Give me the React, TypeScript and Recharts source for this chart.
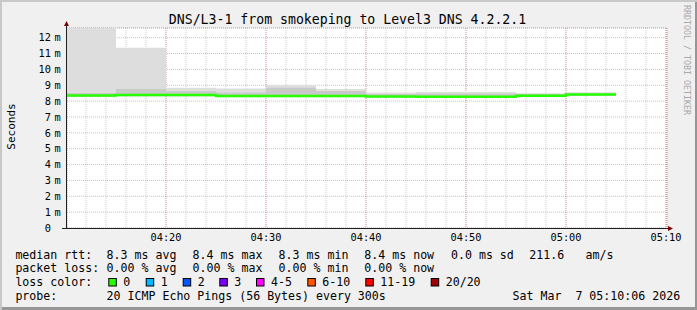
import { Area, CartesianGrid, ComposedChart, Line, XAxis, YAxis } from 'recharts'

const mono = "'DejaVu Sans Mono', monospace"

// 5 minute rrd steps, minutes after midnight (first one clipped at 04:10:06)
const blockStarts = [250.1, 255, 260, 265, 270, 275, 280, 285, 290, 295, 300]
const lastBlockEnd = 305
// smoke, in ms
const minMs = [8.27, 8.3, 8.3, 8.26, 8.26, 8.26, 8.23, 8.22, 8.22, 8.28, 8.34]
const medianMs = [8.36, 8.38, 8.38, 8.32, 8.33, 8.33, 8.29, 8.28, 8.28, 8.34, 8.41]
const innerMs = [8.54, 8.77, 8.65, 8.56, 8.88, 8.65, 8.48, 8.5, 8.5, 8.45, 8.5]
const maxMs = [12.61, 11.37, 8.85, 8.79, 9.0, 8.77, 8.54, 8.58, 8.57, 8.5, 8.56]

const xDomain = [250.1, 310.1]
const xMajorTicks = [260, 270, 280, 290, 300, 310]
const xTickLabels = ['04:20', '04:30', '04:40', '04:50', '05:00', '05:10']
const xMinorTicks = [252, 254, 256, 258, 260, 262, 264, 266, 268, 270, 272, 274, 276, 278, 280, 282, 284, 286, 288, 290, 292, 294, 296, 298, 300, 302, 304, 306, 308, 310]
const yMax = 12.61
const yMajorTicks = [0, 1, 2, 3, 4, 5, 6, 7, 8, 9, 10, 11, 12]
const yMinorTicks = [0, 0.5, 1, 1.5, 2, 2.5, 3, 3.5, 4, 4.5, 5, 5.5, 6, 6.5, 7, 7.5, 8, 8.5, 9, 9.5, 10, 10.5, 11, 11.5, 12, 12.5]

const title = 'DNS/L3-1 from smokeping to Level3 DNS 4.2.2.1'
const rttStats = ['8.3 ms avg', '8.4 ms max', '8.3 ms min', '8.4 ms now', '0.0 ms sd', '211.6', 'am/s']
const lossStats = ['0.00 % avg', '0.00 % max', '0.00 % min', '0.00 % now']
const lossLabels = ['0', '1', '2', '3', '4-5', '6-10', '11-19', '20/20']
const lossColors = ['#26ff00', '#00b8ff', '#0059ff', '#7e00ff', '#ff00ff', '#ff5500', '#ff0000', '#a10000']
const probeText = '20 ICMP Echo Pings (56 Bytes) every 300s'
const stamp = 'Sat Mar  7 05:10:06 2026'

// legend layout
const rttX = [106.6, 192.6, 278.6, 364.3, 451, 529.3, 585.6]
const boxX = [108.3, 145.7, 182.7, 219.3, 256, 307.3, 365.3, 430.7]
const rowY = [258.5, 272.3, 286, 300]

const rows = [...blockStarts, lastBlockEnd].map((t, j) => {
  const i = Math.min(j, blockStarts.length - 1)
  return {
    t,
    base: minMs[i],
    low: medianMs[i] - minMs[i],
    mid: innerMs[i] - medianMs[i],
    high: maxMs[i] - innerMs[i],
    median: medianMs[i],
  }
})

function YTick(props: any) {
  const { x, y, payload } = props
  const v = payload.value
  return (
    <g>
      <text x={x - 16} y={y} dy={3.7} textAnchor="end" fontFamily={mono} fontSize={10.3} fill="#000">{v}</text>
      {v > 0 && <text x={x - 12.5} y={y} dy={3.7} fontFamily={mono} fontSize={10.3} fill="#000">m</text>}
    </g>
  )
}

function XTick(props: any) {
  const { x, y, payload } = props
  const label = xTickLabels[xMajorTicks.indexOf(payload.value)]
  return (
    <text x={x} y={y} dy={13} textAnchor="middle" fontFamily={mono} fontSize={10.3} fill="#000">{label}</text>
  )
}

export default function App() {
  const txt = { fontFamily: mono, fontSize: 11.6, fill: '#000', whiteSpace: 'pre' as const }
  return (
    <div style={{ position: 'absolute', top: 0, left: 0, width: 697, height: 310, background: '#f0f0f0', boxShadow: 'inset 2px 2px 0 #c8c8c8, inset -2px -3px 0 #969696' }}>
      <ComposedChart width={697} height={310} data={rows} margin={{ top: 28, right: 30, bottom: 62, left: 7 }}>
        <XAxis xAxisId="minor" dataKey="t" type="number" domain={xDomain} ticks={xMinorTicks} interval={0} hide />
        <YAxis yAxisId="minor" type="number" domain={[0, yMax]} ticks={yMinorTicks} interval={0} hide />
        <XAxis dataKey="t" type="number" domain={xDomain} ticks={xMajorTicks} interval={0} height={20}
          axisLine={false} tickLine={false} tickSize={0} tickMargin={0} tick={<XTick />} />
        <YAxis type="number" domain={[0, yMax]} ticks={yMajorTicks} interval={0} width={60}
          axisLine={false} tickLine={false} tickSize={0} tickMargin={0} tick={<YTick />} />
        <CartesianGrid horizontal={false} vertical={false} fill="#ffffff" />
        <Area dataKey="base" type="stepAfter" stackId="smoke" stroke="none" fill="none" isAnimationActive={false} />
        <Area dataKey="low" type="stepAfter" stackId="smoke" stroke="none" fill="#bdbdbd" fillOpacity={1} isAnimationActive={false} />
        <Area dataKey="mid" type="stepAfter" stackId="smoke" stroke="none" fill="#c9c9c9" fillOpacity={1} isAnimationActive={false} />
        <Area dataKey="high" type="stepAfter" stackId="smoke" stroke="none" fill="#dddddd" fillOpacity={1} isAnimationActive={false} />
        <CartesianGrid xAxisId="minor" yAxisId="minor" stroke="#8f8f8f" strokeOpacity={0.45} strokeDasharray="1 1" />
        <CartesianGrid stroke="#de5050" strokeOpacity={0.45} strokeDasharray="1 1" />
        <Line dataKey="median" type="stepAfter" stroke="#26ff00" strokeWidth={2.5} dot={false} activeDot={false} isAnimationActive={false} />
      </ComposedChart>
      <svg width={697} height={310} style={{ position: 'absolute', top: 0, left: 0, pointerEvents: 'none' }}>
        <text x={347.5} y={24} textAnchor="middle" fontFamily={mono} fontSize={13.2} fill="#000">{title}</text>
        <text x={15} y={126.5} textAnchor="middle" transform="rotate(-90 15 126.5)" fontFamily={mono} fontSize={11} fill="#000">Seconds</text>
        <text x={684} y={5} transform="rotate(90 684 5)" fontFamily={mono} fontSize={8.3} fill="#a8a8a8">RRDTOOL / TOBI OETIKER</text>
        <line x1={66.5} y1={25} x2={66.5} y2={229} stroke="#202020" />
        <line x1={62} y1={228.5} x2={669} y2={228.5} stroke="#202020" />
        <polygon points="64,26 69,26 66.5,21" fill="#7f0000" />
        <polygon points="668,226 668,231 673,228.5" fill="#7f0000" />
        <text x={15.4} y={rowY[0]} style={txt}>median rtt:</text>
        {rttStats.map((s, i) => <text key={s} x={rttX[i]} y={rowY[0]} style={txt}>{s}</text>)}
        <text x={15.4} y={rowY[1]} style={txt}>packet loss:</text>
        {lossStats.map((s, i) => <text key={s} x={rttX[i]} y={rowY[1]} style={txt}>{s}</text>)}
        <text x={15.4} y={rowY[2]} style={txt}>loss color:</text>
        {lossLabels.map((s, i) => (
          <g key={s}>
            <rect x={boxX[i] + 0.5} y={278.5} width={7.5} height={7.5} fill={lossColors[i]} stroke="#000" />
            <text x={boxX[i] + 15} y={rowY[2]} style={txt}>{s}</text>
          </g>
        ))}
        <text x={15.4} y={rowY[3]} style={txt}>probe:</text>
        <text x={106.6} y={rowY[3]} style={txt}>{probeText}</text>
        <text x={512.6} y={rowY[3]} style={txt}>{stamp}</text>
      </svg>
    </div>
  )
}
